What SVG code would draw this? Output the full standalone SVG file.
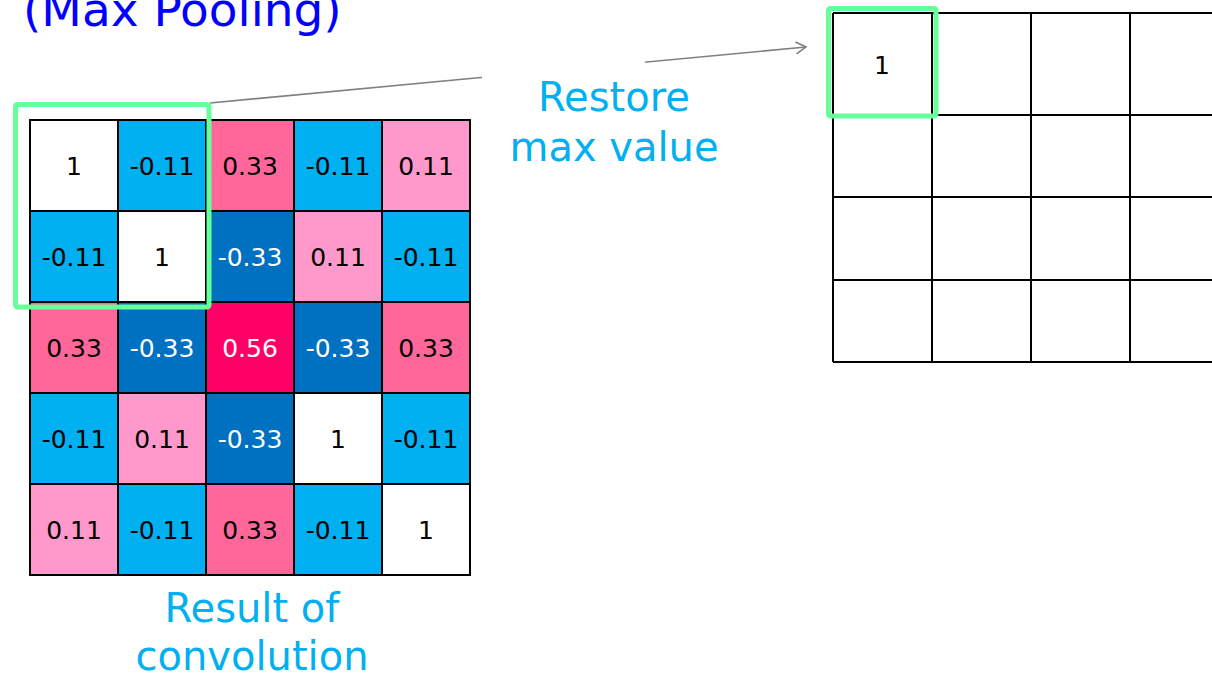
<svg xmlns="http://www.w3.org/2000/svg" width="1212" height="675" viewBox="0 0 1212 675">
  <defs>
    <marker id="open-arrow" markerWidth="14" markerHeight="14" refX="11" refY="7" orient="auto" markerUnits="userSpaceOnUse">
      <path d="M1,1 L11,7 L1,13" fill="none" stroke="#808080" stroke-width="1.6"/>
    </marker>
  </defs>
  <style>
    .cell { stroke: #000; stroke-width: 2; }
    .w  { fill: #FFFFFF; }
    .lb { fill: #00B0F0; }
    .db { fill: #0070C0; }
    .lp { fill: #FF99CC; }
    .mp { fill: #FF6699; }
    .hp { fill: #FF0066; }
    .num { font-family: "DejaVu Sans", Verdana, sans-serif; font-size: 25px; text-anchor: middle; fill: #000; }
    .num.inv { fill: #FFFFFF; }
    .label { font-family: "DejaVu Sans", Verdana, sans-serif; font-size: 40px; fill: #00B0F0; text-anchor: middle; }
    .title { font-family: "DejaVu Sans", Verdana, sans-serif; font-size: 47px; fill: #0000FF; }
    .hl { fill: none; stroke: #66FF99; stroke-width: 5; }
    .grid { fill: none; stroke: #000; stroke-width: 2; }
    .conn { fill: none; stroke: #808080; stroke-width: 1.6; }
  </style>

  <rect width="1212" height="675" fill="#FFFFFF"/>

  <!-- heading, partly above the top edge -->
  <text class="title" x="23" y="26">(Max Pooling)</text>

  <!-- connector: pooled window to its slot in the output map -->
  <g id="connectors">
    <line class="conn" x1="210" y1="103" x2="806" y2="47" marker-end="url(#open-arrow)"/>
  </g>

  <!-- 5x5 convolution result -->
  <g id="conv-result">
    <!-- row 1 -->
    <rect class="cell w"  x="30"  y="120" width="88" height="91"/>
    <rect class="cell lb" x="118" y="120" width="88" height="91"/>
    <rect class="cell mp" x="206" y="120" width="88" height="91"/>
    <rect class="cell lb" x="294" y="120" width="88" height="91"/>
    <rect class="cell lp" x="382" y="120" width="88" height="91"/>
    <!-- row 2 -->
    <rect class="cell lb" x="30"  y="211" width="88" height="91"/>
    <rect class="cell w"  x="118" y="211" width="88" height="91"/>
    <rect class="cell db" x="206" y="211" width="88" height="91"/>
    <rect class="cell lp" x="294" y="211" width="88" height="91"/>
    <rect class="cell lb" x="382" y="211" width="88" height="91"/>
    <!-- row 3 -->
    <rect class="cell mp" x="30"  y="302" width="88" height="91"/>
    <rect class="cell db" x="118" y="302" width="88" height="91"/>
    <rect class="cell hp" x="206" y="302" width="88" height="91"/>
    <rect class="cell db" x="294" y="302" width="88" height="91"/>
    <rect class="cell mp" x="382" y="302" width="88" height="91"/>
    <!-- row 4 -->
    <rect class="cell lb" x="30"  y="393" width="88" height="91"/>
    <rect class="cell lp" x="118" y="393" width="88" height="91"/>
    <rect class="cell db" x="206" y="393" width="88" height="91"/>
    <rect class="cell w"  x="294" y="393" width="88" height="91"/>
    <rect class="cell lb" x="382" y="393" width="88" height="91"/>
    <!-- row 5 -->
    <rect class="cell lp" x="30"  y="484" width="88" height="91"/>
    <rect class="cell lb" x="118" y="484" width="88" height="91"/>
    <rect class="cell mp" x="206" y="484" width="88" height="91"/>
    <rect class="cell lb" x="294" y="484" width="88" height="91"/>
    <rect class="cell w"  x="382" y="484" width="88" height="91"/>

    <text class="num" x="74"  y="175">1</text>
    <text class="num" x="162" y="175">-0.11</text>
    <text class="num" x="250" y="175">0.33</text>
    <text class="num" x="338" y="175">-0.11</text>
    <text class="num" x="426" y="175">0.11</text>

    <text class="num" x="74"  y="266">-0.11</text>
    <text class="num" x="162" y="266">1</text>
    <text class="num inv" x="250" y="266">-0.33</text>
    <text class="num" x="338" y="266">0.11</text>
    <text class="num" x="426" y="266">-0.11</text>

    <text class="num" x="74"  y="357">0.33</text>
    <text class="num inv" x="162" y="357">-0.33</text>
    <text class="num inv" x="250" y="357">0.56</text>
    <text class="num inv" x="338" y="357">-0.33</text>
    <text class="num" x="426" y="357">0.33</text>

    <text class="num" x="74"  y="448">-0.11</text>
    <text class="num" x="162" y="448">0.11</text>
    <text class="num inv" x="250" y="448">-0.33</text>
    <text class="num" x="338" y="448">1</text>
    <text class="num" x="426" y="448">-0.11</text>

    <text class="num" x="74"  y="539">0.11</text>
    <text class="num" x="162" y="539">-0.11</text>
    <text class="num" x="250" y="539">0.33</text>
    <text class="num" x="338" y="539">-0.11</text>
    <text class="num" x="426" y="539">1</text>
  </g>

  <!-- 2x2 pooling window -->
  <g id="pool-window">
    <rect class="hl" x="15.5" y="104.5" width="193.5" height="202.5" rx="2"/>
  </g>

  <!-- pooled output map, running off the right edge -->
  <g id="pooled-map">
    <path class="grid" d="M833,13 H1212 M833,115 H1212 M833,197 H1212 M833,280 H1212 M833,362 H1212
                          M833,13 V362 M932,13 V362 M1031,13 V362 M1130,13 V362"/>
    <text class="num" x="882" y="74">1</text>
  </g>

  <!-- restored maximum cell -->
  <g id="restored-cell">
    <rect class="hl" x="828.5" y="8.5" width="107.5" height="107.5" rx="2"/>
  </g>

  <!-- connector label; its white backing interrupts the line -->
  <g id="label-restore">
    <rect x="482" y="55" width="163" height="32" fill="#FFFFFF"/>
    <text class="label" x="614" y="111">Restore</text>
    <text class="label" x="614" y="161">max value</text>
  </g>

  <g id="label-conv">
    <text class="label" x="252" y="622">Result of</text>
    <text class="label" x="252" y="670">convolution</text>
  </g>
</svg>
